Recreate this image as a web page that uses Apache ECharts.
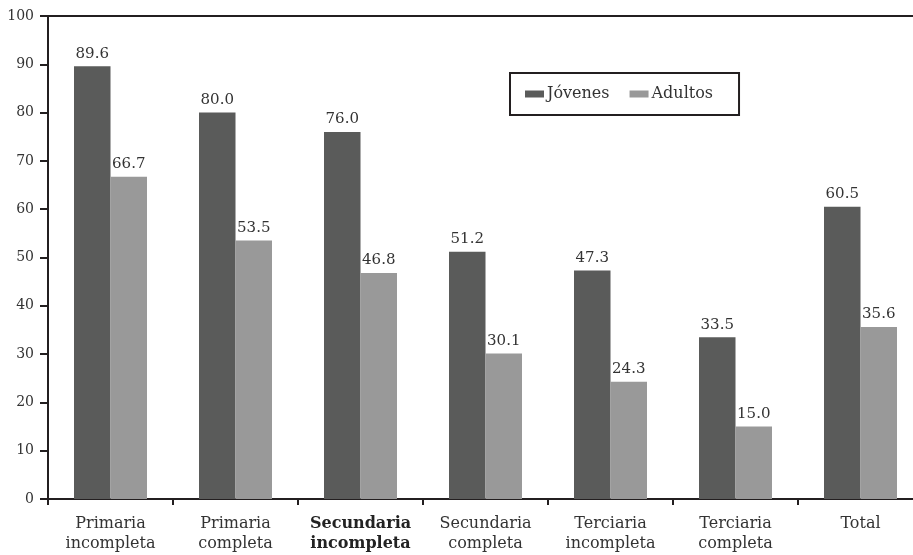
<!DOCTYPE html>
<html>
<head>
<meta charset="utf-8">
<script src="https://cdn.jsdelivr.net/npm/echarts@6/dist/echarts.min.js"></script>
<style>
html,body{margin:0;padding:0;background:#fff;}
#chart{width:913px;height:555px;}
</style>
</head>
<body>
<div id="chart"></div>
<script>
var categories = ['Primaria\nincompleta', 'Primaria\ncompleta', 'Secundaria\nincompleta', 'Secundaria\ncompleta', 'Terciaria\nincompleta', 'Terciaria\ncompleta', 'Total'];
var jovenes = [89.6, 80.0, 76.0, 51.2, 47.3, 33.5, 60.5];
var adultos = [66.7, 53.5, 46.8, 30.1, 24.3, 15.0, 35.6];
var seriesNames = ['Jóvenes', 'Adultos'];
var yTicks = [0, 10, 20, 30, 40, 50, 60, 70, 80, 90, 100];

var FONT = 'DejaVu Serif';
var AXIS = '#231f20';
var chart = echarts.init(document.getElementById('chart'), null, {renderer: 'canvas'});
var lbl = {show: true, position: 'top', distance: 5, fontFamily: FONT, fontSize: 15, color: '#333',
  formatter: function (p) { return p.value.toFixed(1); }};
chart.setOption({
  animation: false,
  backgroundColor: '#fff',
  grid: {left: 48, width: 875, top: 16, bottom: 56, containLabel: false, outerBoundsMode: 'none',
    show: true, borderColor: AXIS, borderWidth: 2, backgroundColor: 'transparent'},
  legend: {
    data: seriesNames, left: 510, top: 73, orient: 'horizontal',
    padding: [13, 26, 13, 15], borderColor: AXIS, borderWidth: 2,
    itemWidth: 19, itemHeight: 7, itemGap: 20,
    icon: 'rect',
    textStyle: {fontFamily: FONT, fontSize: 16, color: '#333', padding: [0, 0, 0, -2]}
  },
  xAxis: {
    type: 'category', data: categories,
    axisLine: {lineStyle: {color: AXIS, width: 2}},
    axisTick: {show: true, length: 6, lineStyle: {color: AXIS, width: 2}},
    axisLabel: {
      margin: 15, fontFamily: FONT, fontSize: 16, color: '#333', lineHeight: 20, interval: 0,
      formatter: function (v, i) {
        if (i === 2) return v.split('\n').map(function (s) { return '{b|' + s + '}'; }).join('\n');
        return v;
      },
      rich: {b: {fontFamily: FONT, fontSize: 16, color: '#222', fontWeight: 'bold', lineHeight: 20}}
    }
  },
  yAxis: {
    type: 'value', min: 0, max: 100, interval: 10,
    axisLine: {show: true, lineStyle: {color: AXIS, width: 2}},
    axisTick: {show: true, length: 8, lineStyle: {color: AXIS, width: 2}},
    splitLine: {show: false},
    axisLabel: {margin: 14, fontFamily: FONT, fontSize: 14, color: '#333',
      formatter: function (v) { return yTicks.indexOf(v) >= 0 ? String(v) : ''; }}
  },
  series: [
    {name: seriesNames[0], type: 'bar', data: jovenes, barWidth: 36.5, barGap: '0%',
      itemStyle: {color: '#5a5b5a'}, label: lbl},
    {name: seriesNames[1], type: 'bar', data: adultos, barWidth: 36.5, barGap: '0%',
      itemStyle: {color: '#999999'}, label: lbl}
  ]
});
</script>
</body>
</html>
